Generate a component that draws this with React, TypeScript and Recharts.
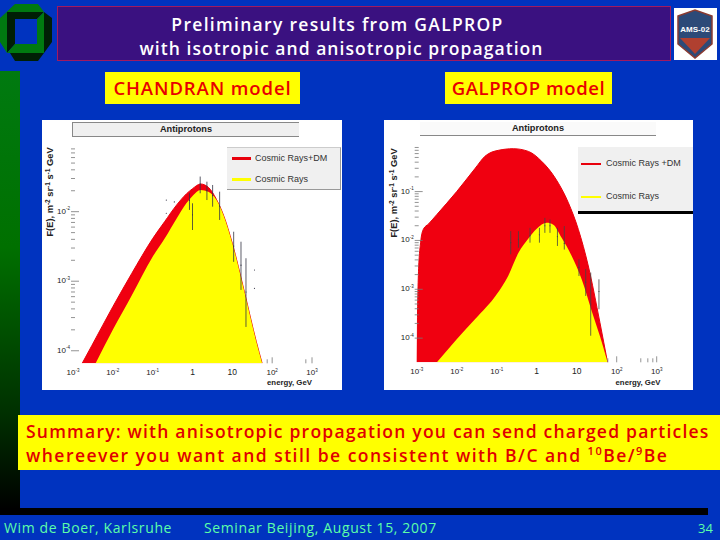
import React from "react";
import { ComposedChart, Area, Scatter, XAxis, YAxis, Legend, ErrorBar } from "recharts";

const xMajor = [0.001, 0.01, 0.1, 1, 10, 100, 1000];
const leftXExtra = [75, 700];
const rightXExtra = [60, 400, 600, 800];
const minorMultipliers = [2, 3, 4, 5, 6, 7, 8, 9];

const leftRedE = [0.0017, 0.003, 0.01, 0.03, 0.1, 0.2, 0.4, 0.7, 1, 1.6, 2.5, 4, 6, 10, 20, 40, 56];
const leftRedF = [6.6e-5, 1.2e-4, 4.3e-4, 1.3e-3, 4.1e-3, 7.2e-3, 1.25e-2, 1.8e-2, 2.14e-2, 2.5e-2, 2.24e-2, 1.5e-2, 8.9e-3, 3.5e-3, 7.1e-4, 1.35e-4, 6.6e-5];
const leftYellowE = [0.0037, 0.01, 0.03, 0.1, 0.2, 0.4, 0.7, 1, 1.6, 2.5, 4, 6, 10, 20, 40, 56];
const leftYellowF = [6.6e-5, 2e-4, 6.3e-4, 2.25e-3, 4.1e-3, 8e-3, 1.32e-2, 1.68e-2, 2.05e-2, 1.94e-2, 1.47e-2, 8.9e-3, 3.5e-3, 7.1e-4, 1.35e-4, 6.6e-5];
const leftPointE = [0.84, 1, 1.56, 2.3, 3.2, 4.8, 10.8, 16.5, 22, 36, 36, 0.22, 0.22, 0.35];
const leftPointF = [0.0145, 0.009, 0.025, 0.02, 0.017, 0.012, 0.0032, 0.0017, 0.0007, 0.00145, 0.00079, 0.0147, 0.0095, 0.0138];
const leftPointLo = [0.0106, 0.00545, 0.0184, 0.0147, 0.0118, 0.0076, 0.0019, 0.00075, 0.00022, 0.00145, 0.00079, 0.0147, 0.0095, 0.0138];
const leftPointHi = [0.0184, 0.0132, 0.032, 0.027, 0.0242, 0.0194, 0.00515, 0.0037, 0.00214, 0.00145, 0.00079, 0.0147, 0.0095, 0.0138];

const rightRedE = [0.001, 0.0011, 0.00125, 0.00147, 0.002, 0.0032, 0.01, 0.029, 0.051, 0.11, 0.26, 0.62, 1.33, 2.9, 6.2, 11, 19.5, 38, 59];
const rightRedF = [3.2e-5, 1.9e-3, 9e-3, 1.7e-2, 2.2e-2, 3.4e-2, 0.1, 0.3, 0.53, 0.7, 0.755, 0.665, 0.417, 0.19, 0.059, 0.0168, 3e-3, 2.1e-4, 3.2e-5];
const rightYellowE = [0.0032, 0.01, 0.029, 0.1, 0.195, 0.35, 0.62, 1, 1.78, 2.6, 4.2, 7.5, 13.3, 23.7, 38, 59];
const rightYellowF = [3.2e-5, 9.5e-5, 2.45e-4, 7.9e-4, 1.9e-3, 5.6e-3, 1.1e-2, 1.74e-2, 2.3e-2, 2.1e-2, 1.13e-2, 4.8e-3, 1.6e-3, 3.6e-4, 1.1e-4, 3.2e-5];
const rightPointE = [0.224, 0.35, 0.68, 1.17, 1.6, 2.15, 3.3, 4.9, 11.4, 16.8, 22.4, 36];
const rightPointF = [0.009, 0.0105, 0.0125, 0.013, 0.02, 0.02, 0.012, 0.0087, 0.0028, 0.0014, 0.0005, 0.0009];
const rightPointLo = [0.0052, 0.0071, 0.009, 0.009, 0.0143, 0.0143, 0.0077, 0.0065, 0.00187, 0.00073, 0.000112, 0.00039];
const rightPointHi = [0.0155, 0.0155, 0.0181, 0.0181, 0.029, 0.0268, 0.0181, 0.0197, 0.0041, 0.0026, 0.0022, 0.0016];

const seriesNames = { red: "Cosmic Rays+DM", redRight: "Cosmic Rays +DM", yellow: "Cosmic Rays" };
const chartTitle = "Antiprotons";
const yTitle = ["F(E), m", "-2", " sr", "-1", " s", "-1", " GeV"];
const xTitle = "energy, GeV";
const titleLines = ["Preliminary results from GALPROP", "with isotropic and anisotropic propagation"];
const modelLabels = ["CHANDRAN model", "GALPROP model"];
const footer = ["Wim de Boer, Karlsruhe", "Seminar Beijing, August 15, 2007", "34"];

const series = (e: number[], f: number[]) => e.map((energy, i) => ({ energy, flux: f[i] }));
const points = (e: number[], f: number[], lo: number[], hi: number[]) =>
  e.map((energy, i) => ({ energy, flux: f[i], err: [f[i] - lo[i], hi[i] - f[i]] }));

const AXIS_FONT = "'Liberation Sans', Arial, sans-serif";
const SLIDE_FONT = "'Open Sans', sans-serif";
const isDecade = (v: number) => Math.abs(Math.log10(v) - Math.round(Math.log10(v))) < 1e-6;
const exponent = (v: number) => Math.round(Math.log10(v));

function yTicksFor(decades: number[], min: number, max: number) {
  const out: number[] = [];
  decades.forEach((d) => {
    out.push(d);
    minorMultipliers.forEach((m) => out.push(d * m));
  });
  return out.filter((v) => v >= min && v <= max);
}

function DecadeText({ x, y, v, anchor, color }: any) {
  const e = exponent(v);
  if (e === 0 || e === 1) {
    return <text x={x} y={y} textAnchor={anchor} fontSize={8.5} fill={color} fontFamily={AXIS_FONT}>{v}</text>;
  }
  return (
    <text x={x} y={y} textAnchor={anchor} fontSize={8} fill={color} fontFamily={AXIS_FONT}>
      10<tspan dy={-3.5} fontSize={4.5}>{e}</tspan>
    </text>
  );
}

function XTick({ x, y, payload }: any) {
  const v = payload.value;
  const major = isDecade(v);
  return (
    <g>
      {v > 50 && <line x1={x} x2={x} y1={y} y2={y - (major ? 6 : 4)} stroke="#777" strokeWidth={0.8} />}
      {major && <DecadeText x={x} y={y + 12} v={v} anchor="middle" color="#222" />}
    </g>
  );
}

function YTick({ x, y, payload }: any) {
  const v = payload.value;
  const major = isDecade(v);
  return (
    <g>
      <line x1={x - 2} x2={x + (major ? 6 : 2)} y1={y} y2={y} stroke="#777" strokeWidth={0.8} />
      {major && <DecadeText x={x - 3} y={y + 2} v={v} anchor="end" color="#222" />}
    </g>
  );
}

function YTitle({ viewBox, labelY }: any) {
  const cx = viewBox.x - 20;
  const t = `rotate(-90 ${cx} ${labelY})`;
  return (
    <text x={cx} y={labelY} transform={t} textAnchor="middle" fontSize={9.3} fontWeight="bold" fill="#222" fontFamily={AXIS_FONT}>
      {yTitle.map((s, i) => (i % 2 === 1
        ? <tspan key={i} dy={-3} fontSize={6.5}>{s}</tspan>
        : <tspan key={i} dy={i === 0 ? 0 : 3}>{s}</tspan>))}
    </text>
  );
}

function LegendBox({ payload, height, thickLine, rows, textLeft, lineLeft, lineWidth, border, fontSize }: any) {
  const entries = (payload || []).filter((p: any) => p.type !== "none" && p.value !== "flux");
  return (
    <div style={{ position: "relative", width: "100%", height, background: "#f0f0f0", boxSizing: "border-box", ...border }}>
      {entries.map((p: any, i: number) => (
        <React.Fragment key={i}>
          <div style={{ position: "absolute", left: lineLeft, top: rows[i] - thickLine / 2, width: lineWidth, height: thickLine, background: p.color }} />
          <div style={{ position: "absolute", left: textLeft, top: rows[i] - 8, lineHeight: "15px", fontSize, color: "#333", fontFamily: AXIS_FONT, whiteSpace: "nowrap" }}>{p.value}</div>
        </React.Fragment>
      ))}
    </div>
  );
}

function Panel(props: any) {
  const { left, width, ml, mr, mt, mb, yDomain, yTicks, red, yellow, pts, redName, extraX, errColor, bar, legend, yTitleY, xTitleX } = props;
  return (
    <div style={{ position: "absolute", left, top: 120, width, height: 270, background: "#fff" }}>
      <div style={{ position: "absolute", ...bar, boxSizing: "border-box", textAlign: "center", fontFamily: AXIS_FONT, fontSize: 9.2, fontWeight: "bold", color: "#222", lineHeight: "13px" }}>{chartTitle}</div>
      <div style={{ position: "absolute", left: 0, top: 0 }}>
        <ComposedChart width={width} height={270} margin={{ left: 0, right: mr, top: mt, bottom: 0 }}>
          <XAxis dataKey="energy" type="number" scale="log" domain={[0.001, 1000]} allowDataOverflow ticks={[...xMajor, ...extraX].sort((a, b) => a - b)} interval={0} height={mb} tickSize={0} tickMargin={0} axisLine={false} tickLine={false} tick={<XTick />}
            label={(p: any) => <text x={xTitleX} y={265} textAnchor="middle" fontSize={7.8} fontWeight="bold" fill="#222" fontFamily={AXIS_FONT}>{xTitle}</text>} />
          <YAxis dataKey="flux" type="number" scale="log" domain={yDomain} allowDataOverflow ticks={yTicks} interval={0} width={ml} tickSize={0} tickMargin={0} axisLine={false} tickLine={false} tick={<YTick />}
            label={(p: any) => <YTitle viewBox={{ x: ml, y: mt }} labelY={yTitleY} />} />
          <Legend verticalAlign="middle" layout="horizontal" align="center" itemSorter={null} wrapperStyle={legend.wrapper} content={(lp: any) => <LegendBox {...lp} {...legend.box} />} />
          <Area data={red} dataKey="flux" name={redName} type="monotone" stroke="#e8000c" strokeWidth={1} fill="#f00010" fillOpacity={1} isAnimationActive={false} dot={false} activeDot={false} baseValue={yDomain[0]} />
          <Area data={yellow} dataKey="flux" name={seriesNames.yellow} type="monotone" stroke="#ffff00" strokeWidth={0} fill="#ffff00" fillOpacity={1} isAnimationActive={false} dot={false} activeDot={false} baseValue={yDomain[0]} />
          <Scatter data={pts} dataKey="flux" legendType="none" isAnimationActive={false} shape={(s: any) => <circle cx={s.cx} cy={s.cy} r={0.6} fill={errColor} />}>
            <ErrorBar dataKey="err" direction="y" width={0} stroke={errColor} strokeWidth={0.8} isAnimationActive={false} />
          </Scatter>
        </ComposedChart>
      </div>
    </div>
  );
}

const leftPts = points(leftPointE, leftPointF, leftPointLo, leftPointHi);
const rightPts = points(rightPointE, rightPointF, rightPointLo, rightPointHi);
const leftDomain = [6.6e-5, 0.086];
const rightDomain = [3.2e-5, 0.83];

export default function App() {
  const label: React.CSSProperties = { position: "absolute", fontFamily: SLIDE_FONT, fontWeight: 600, whiteSpace: "nowrap" };
  const footerStyle: React.CSSProperties = { ...label, top: 518, color: "#5cffa8", fontSize: 14, lineHeight: "20px", fontWeight: 500, letterSpacing: 0.62 };
  const modelStyle: React.CSSProperties = { ...label, top: 72, height: 32, background: "#ffff00", color: "#e80000", textAlign: "center", fontSize: 18.5, lineHeight: "32px" };
  return (
    <div style={{ position: "fixed", left: 0, top: 0, width: 720, height: 540, background: "#0033bf", overflow: "hidden" }}>
      <div style={{ position: "absolute", left: 0, top: 71, width: 20, height: 439, background: "linear-gradient(#007a10 0%, #007000 40%, #003000 78%, #000 100%)" }} />
      <div style={{ position: "absolute", left: 0, top: 508, width: 708, height: 7, background: "#000" }} />
      <svg style={{ position: "absolute", left: 0, top: 0 }} width={56} height={70}>
        <polygon points="15,4 38,4 44,12 7,12 0,18" fill="#007a10" />
        <polygon points="0,18 7,12 7,53 0,42" fill="#007a10" />
        <polygon points="7,12 44,12 37,19 15,19 15,44 7,53" fill="#001f05" />
        <polygon points="44,12 44,53 7,53 15,44 37,44 37,19" fill="#007a10" />
        <polygon points="44,12 52,18 52,42 44,53" fill="#001f05" />
        <polygon points="10,53 44,53 38,61 15,61" fill="#001f05" />
      </svg>
      <div style={{ position: "absolute", left: 57, top: 6, width: 614, height: 55, background: "#3a1180", border: "1px solid #a01a60", boxSizing: "border-box" }} />
      <div style={{ ...label, left: 57, width: 566, top: 12, textAlign: "center", fontSize: 17.5, lineHeight: "24px", color: "#fff" }}>
        <div style={{ letterSpacing: 1.3, marginLeft: -5 }}>{titleLines[0]}</div><div style={{ letterSpacing: 1.05, marginLeft: 3 }}>{titleLines[1]}</div>
      </div>
      <div style={{ position: "absolute", left: 674, top: 8, width: 43, height: 52, background: "#fff" }}>
        <svg width={43} height={52}>
          <polygon points="4,8 21,2 38,8 38,36 21,50 4,36" fill="#2c4a78" stroke="#8a3a30" strokeWidth={1.5} />
          <polygon points="6,30 36,30 21,46" fill="#b04030" />
          <text x={21} y={24} textAnchor="middle" fontSize={8} fontWeight="bold" fill="#fff" fontFamily={AXIS_FONT}>AMS-02</text>
        </svg>
      </div>
      <div style={{ ...modelStyle, left: 105, width: 195, letterSpacing: 0.9 }}>{modelLabels[0]}</div>
      <div style={{ ...modelStyle, left: 445, width: 167, letterSpacing: 0.6 }}>{modelLabels[1]}</div>

      <Panel left={42} width={300} ml={31} mr={30} mt={26.7} mb={26.7} yDomain={leftDomain} yTicks={yTicksFor([1e-4, 1e-3, 1e-2], 7e-5, 0.08)}
        red={series(leftRedE, leftRedF)} yellow={series(leftYellowE, leftYellowF)} pts={leftPts} redName={seriesNames.red} extraX={leftXExtra} errColor="#334"
        bar={{ left: 30, top: 2, width: 227, height: 15, background: "#f0f0f0", borderTop: "1px solid #888", borderBottom: "1px solid #888", borderLeft: "1px solid #888" }}
        yTitleY={72} xTitleX={247.5}
        legend={{ wrapper: { position: "absolute", left: 185, top: 27, width: 114, height: 43 }, box: { height: 43, thickLine: 3, rows: [10.5, 31.5], textLeft: 28, lineLeft: 5, lineWidth: 19, fontSize: 9, border: { borderRight: "1px solid #999", borderBottom: "1px solid #999", borderTop: "1px solid #ccc" } } }} />

      <Panel left={384} width={309} ml={32.7} mr={36.3} mt={26.7} mb={27.7} yDomain={rightDomain} yTicks={yTicksFor([1e-4, 1e-3, 1e-2, 1e-1], 4e-5, 0.8)}
        red={series(rightRedE, rightRedF)} yellow={series(rightYellowE, rightYellowF)} pts={rightPts} redName={seriesNames.redRight} extraX={rightXExtra} errColor="#444"
        bar={{ left: 36, top: 2, width: 236, height: 14, background: "#fafafa", borderBottom: "1px solid #888" }}
        yTitleY={73} xTitleX={254}
        legend={{ wrapper: { position: "absolute", left: 194, top: 27, width: 115, height: 67 }, box: { height: 67, thickLine: 1.2, rows: [17, 50], textLeft: 28, lineLeft: 3, lineWidth: 20, fontSize: 9, border: { borderBottom: "3px solid #000" } } }} />

      <div style={{ ...label, left: 18, top: 415, width: 702, height: 55, background: "#ffff00", color: "#e00000", fontSize: 17.5, lineHeight: "24px", padding: "4px 0 0 8px", boxSizing: "border-box" }}>
        <div style={{ letterSpacing: 1.22 }}>Summary: with anisotropic propagation you can send charged particles</div>
        <div style={{ letterSpacing: 1.48 }}>whereever you want and still be consistent with B/C and <sup style={{ fontSize: 11, lineHeight: 0 }}>10</sup>Be/<sup style={{ fontSize: 11, lineHeight: 0 }}>9</sup>Be</div>
      </div>
      <div style={{ ...footerStyle, left: 4 }}>{footer[0]}</div>
      <div style={{ ...footerStyle, left: 204 }}>{footer[1]}</div>
      <div style={{ ...footerStyle, left: 698, fontSize: 13, letterSpacing: 0 }}>{footer[2]}</div>
    </div>
  );
}
